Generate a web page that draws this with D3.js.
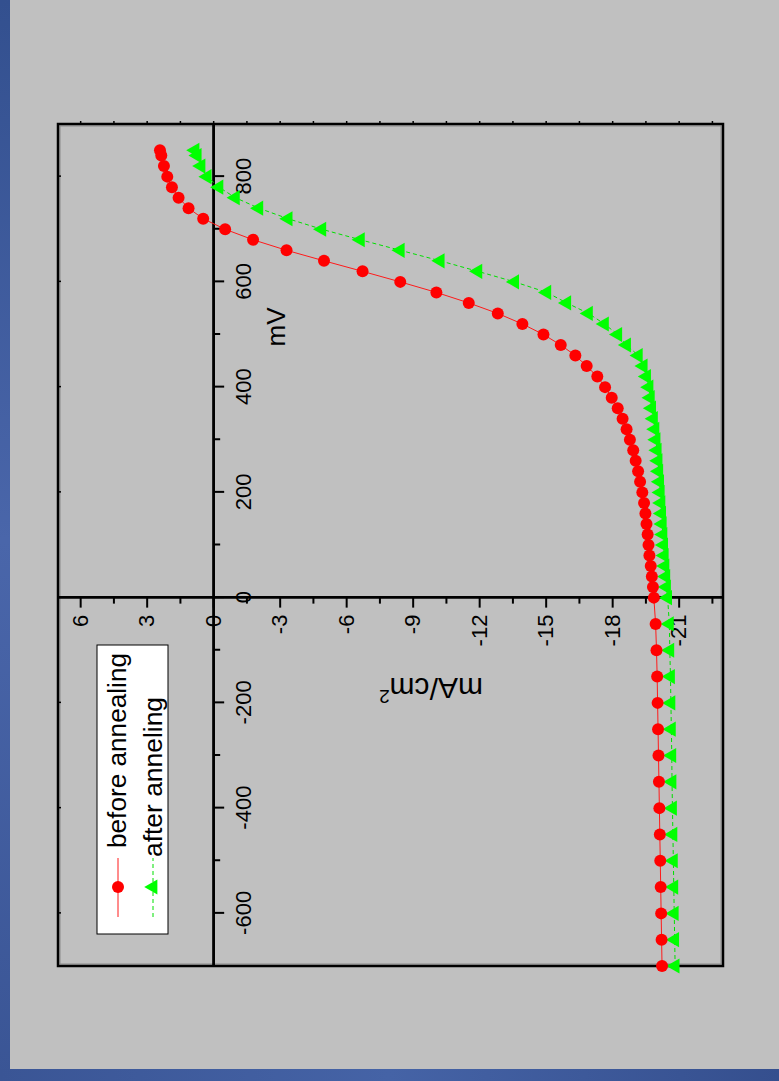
<!DOCTYPE html>
<html>
<head>
<meta charset="utf-8">
<script src="https://cdn.jsdelivr.net/npm/d3@7"></script>
<style>
  body { margin: 0; background: #c0c0c0; }
  svg { display: block; font-family: "Liberation Sans", Arial, sans-serif; }
</style>
</head>
<body>
<svg id="chart" width="779" height="1081"></svg>
<script>
// voltage steps (mV), shared by both curves
var voltage = [-700, -650, -600, -550, -500, -450, -400, -350, -300, -250, -200, -150, -100, -50,
  0, 20, 40, 60, 80, 100, 120, 140, 160, 180, 200, 220, 240, 260, 280, 300, 320, 340, 360, 380,
  400, 420, 440, 460, 480, 500, 520, 540, 560, 580, 600, 620, 640, 660, 680, 700, 720, 740, 760,
  780, 800, 820, 840, 850];

// current density (mA/cm2)
var beforeAnnealing = [-20.25, -20.23, -20.21, -20.19, -20.17, -20.15, -20.13, -20.11, -20.09, -20.07, -20.05, -20.03, -20.0, -19.96,
  -19.88, -19.84, -19.79, -19.74, -19.68, -19.64, -19.6, -19.55, -19.5, -19.44, -19.36, -19.26, -19.17, -19.06, -18.95, -18.8,
  -18.65, -18.47, -18.25, -17.98, -17.68, -17.33, -16.85, -16.34, -15.68, -14.9, -13.95, -12.84, -11.53, -10.07, -8.44, -6.74,
  -5.0, -3.31, -1.8, -0.54, 0.45, 1.11, 1.56, 1.86, 2.07, 2.22, 2.34, 2.4];

var afterAnnealing = [-20.84, -20.82, -20.8, -20.78, -20.76, -20.74, -20.72, -20.7, -20.69, -20.67, -20.65, -20.63, -20.6, -20.58,
  -20.5, -20.45, -20.42, -20.38, -20.35, -20.32, -20.29, -20.26, -20.23, -20.2, -20.17, -20.14, -20.1, -20.07, -20.03, -19.98,
  -19.93, -19.86, -19.78, -19.72, -19.66, -19.55, -19.4, -19.18, -18.65, -18.25, -17.65, -16.93, -15.95, -15.05, -13.6, -11.94,
  -10.24, -8.44, -6.64, -4.9, -3.38, -2.06, -1.0, -0.26, 0.27, 0.55, 0.72, 0.82];

var mvTicks = [-600, -400, -200, 0, 200, 400, 600, 800];
var mvMinor = [-500, -300, -100, 100, 300, 500, 700];
var jTicks = [6, 3, 0, -3, -6, -9, -12, -15, -18, -21];
var jMinor = [4.5, 1.5, -1.5, -4.5, -7.5, -10.5, -13.5, -16.5, -19.5, -22.5];
var legendLabels = ["before annealing", "after anneling"];

var svg = d3.select("#chart");

// page decoration: blue strips at left and bottom
var defs = svg.append("defs");
var gradV = defs.append("linearGradient").attr("id", "blueV")
  .attr("x1", 0).attr("y1", 0).attr("x2", 0).attr("y2", 1);
gradV.append("stop").attr("offset", "0%").attr("stop-color", "#33508f");
gradV.append("stop").attr("offset", "50%").attr("stop-color", "#4a66aa");
gradV.append("stop").attr("offset", "100%").attr("stop-color", "#3a5595");
var gradH = defs.append("linearGradient").attr("id", "blueH")
  .attr("x1", 0).attr("y1", 0).attr("x2", 1).attr("y2", 0);
gradH.append("stop").attr("offset", "0%").attr("stop-color", "#3a5595");
gradH.append("stop").attr("offset", "50%").attr("stop-color", "#4563a6");
gradH.append("stop").attr("offset", "100%").attr("stop-color", "#354f8e");

svg.append("rect").attr("x", 0).attr("y", 0).attr("width", 779).attr("height", 1081).attr("fill", "#c0c0c0");
svg.append("rect").attr("x", 0).attr("y", 0).attr("width", 10).attr("height", 1081).attr("fill", "url(#blueV)");
svg.append("rect").attr("x", 0).attr("y", 1069).attr("width", 779).attr("height", 12).attr("fill", "url(#blueH)");

// the chart is drawn normally, then turned a quarter turn counter-clockwise
var width = 842;
var height = 665;

var x = d3.scaleLinear().domain([-700, 900]).range([0, width]);
var y = d3.scaleLinear().domain([7, -23]).range([0, height]);

// plain hyphen for negatives, like the original
var fmt = function(d) { return String(d); };

var g = svg.append("g")
  .attr("transform", "translate(58,966) rotate(-90)");

// frame
g.append("rect")
  .attr("x", 2).attr("y", 2)
  .attr("width", width - 4).attr("height", height - 4)
  .attr("fill", "none").attr("stroke", "#8a8a8a").attr("stroke-width", 1);
g.append("rect")
  .attr("width", width).attr("height", height)
  .attr("fill", "none").attr("stroke", "#000").attr("stroke-width", 2.5);

// small ticks along frame edges
g.append("g")
  .attr("class", "edge")
  .attr("transform", "translate(" + width + ",0)")
  .call(d3.axisRight(y).tickValues(jTicks.concat(jMinor)).tickSize(3).tickFormat(""));
g.append("g")
  .attr("class", "edge")
  .call(d3.axisBottom(x).tickValues(mvTicks).tickSize(3).tickFormat(""));
g.selectAll(".edge .domain").remove();
g.selectAll(".edge line").attr("stroke", "#000").attr("stroke-width", 1.5);

// mV axis along J = 0 (minor ticks in their own group so they don't replace the major ones)
g.append("g").attr("class", "axis").attr("transform", "translate(0," + y(0) + ")")
  .call(d3.axisBottom(x).tickValues(mvMinor).tickSize(7).tickFormat("").tickSizeOuter(0));
g.append("g").attr("class", "axis").attr("transform", "translate(0," + y(0) + ")")
  .call(d3.axisBottom(x).tickValues(mvTicks).tickFormat(fmt).tickSize(11).tickPadding(11).tickSizeOuter(0));

// J axis along V = 0
g.append("g").attr("class", "axis").attr("transform", "translate(" + x(0) + ",0)")
  .call(d3.axisLeft(y).tickValues(jMinor).tickSize(6).tickFormat("").tickSizeOuter(0));
g.append("g").attr("class", "axis").attr("transform", "translate(" + x(0) + ",0)")
  .call(d3.axisLeft(y).tickValues(jTicks).tickFormat(fmt).tickSize(10).tickPadding(7).tickSizeOuter(0));

g.selectAll(".axis .domain").attr("stroke", "#000").attr("stroke-width", 2.5);
g.selectAll(".axis .tick line").attr("stroke", "#000").attr("stroke-width", 2);
g.selectAll(".axis .tick text")
  .attr("fill", "#000")
  .style("font-size", "22px")
  .style("font-family", "'Liberation Sans', Arial, sans-serif");

// axis titles
g.append("text")
  .attr("x", 639).attr("y", 227)
  .attr("text-anchor", "middle")
  .style("font-size", "26px")
  .text("mV");

var jTitle = g.append("text")
  .attr("transform", "translate(288,373) rotate(-90)")
  .attr("text-anchor", "middle")
  .style("font-size", "30px");
jTitle.append("tspan").text("mA/cm");
jTitle.append("tspan").attr("dy", -12).style("font-size", "19px").text("2");

// data
var points = voltage.map(function(v, i) {
  return { v: v, before: beforeAnnealing[i], after: afterAnnealing[i] };
});

var lineBefore = d3.line()
  .x(function(d) { return x(d.v); })
  .y(function(d) { return y(d.before); });
var lineAfter = d3.line()
  .x(function(d) { return x(d.v); })
  .y(function(d) { return y(d.after); });

g.append("path").datum(points)
  .attr("d", lineBefore)
  .attr("fill", "none").attr("stroke", "#ff1a1a").attr("stroke-width", 1);
g.append("path").datum(points)
  .attr("d", lineAfter)
  .attr("fill", "none").attr("stroke", "#00e000").attr("stroke-width", 1)
  .attr("stroke-dasharray", "4,3");

var tri = d3.symbol().type(d3.symbolTriangle).size(100);

g.selectAll(".after").data(points).enter()
  .append("path")
  .attr("class", "after")
  .attr("transform", function(d) { return "translate(" + x(d.v) + "," + y(d.after) + ")"; })
  .attr("d", tri)
  .attr("fill", "#00ff00");

g.selectAll(".before").data(points).enter()
  .append("circle")
  .attr("class", "before")
  .attr("cx", function(d) { return x(d.v); })
  .attr("cy", function(d) { return y(d.before); })
  .attr("r", 6)
  .attr("fill", "#ff0000");

// legend
var legend = g.append("g");
legend.append("rect")
  .attr("x", 32).attr("y", 39)
  .attr("width", 289).attr("height", 71)
  .attr("fill", "#fff").attr("stroke", "#000").attr("stroke-width", 1);

legend.append("line")
  .attr("x1", 49).attr("x2", 108).attr("y1", 60).attr("y2", 60)
  .attr("stroke", "#ff1a1a").attr("stroke-width", 1);
legend.append("circle")
  .attr("cx", 79).attr("cy", 60).attr("r", 6)
  .attr("fill", "#ff0000");
legend.append("text")
  .attr("x", 118).attr("y", 68)
  .attr("textLength", 195).attr("lengthAdjust", "spacingAndGlyphs")
  .style("font-size", "26px")
  .text(legendLabels[0]);

legend.append("line")
  .attr("x1", 49).attr("x2", 108).attr("y1", 95).attr("y2", 95)
  .attr("stroke", "#00e000").attr("stroke-width", 1)
  .attr("stroke-dasharray", "4,3");
legend.append("path")
  .attr("transform", "translate(79,95)")
  .attr("d", tri)
  .attr("fill", "#00ff00");
legend.append("text")
  .attr("x", 109).attr("y", 104)
  .attr("textLength", 160).attr("lengthAdjust", "spacingAndGlyphs")
  .style("font-size", "26px")
  .text(legendLabels[1]);
</script>
</body>
</html>
